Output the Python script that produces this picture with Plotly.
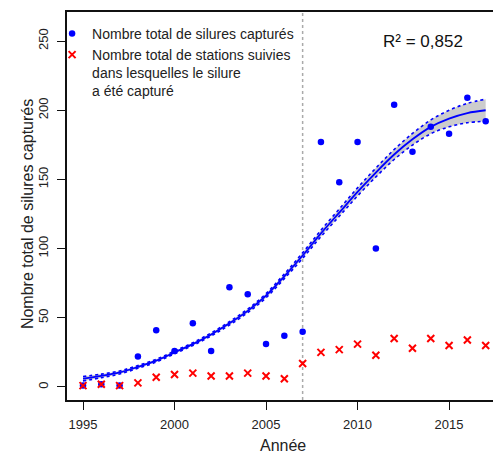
import plotly.graph_objects as go

years = list(range(1995, 2018))
silures = [1, 2, 1, 22, 41, 26, 46, 26, 72, 67, 31, 37, 40, 177, 148, 177, 100, 204, 170, 188, 183, 209, 192]
stations = [1, 2, 1, 3, 7, 9, 10, 8, 8, 10, 8, 6, 17, 25, 27, 31, 23, 35, 28, 35, 30, 34, 30]
fit = [6, 8, 10.5, 14.5, 19, 25, 31, 38, 46, 55, 66, 80, 95, 111, 126, 141, 155, 168, 179, 188, 194, 198, 200]
ci_half = [1.6, 1.3, 1.1, 1.0, 1.0, 1.0, 1.0, 1.1, 1.2, 1.3, 1.5, 1.7, 2.0, 2.3, 2.6, 2.9, 3.2, 3.6, 4.2, 5.0, 6.0, 7.0, 8.0]
x_ticks = [1995, 2000, 2005, 2010, 2015]
y_ticks = [0, 50, 100, 150, 200, 250]
split_year = 2007
r2_text = "R² = 0,852"

upper = [f + h for f, h in zip(fit, ci_half)]
lower = [f - h for f, h in zip(fit, ci_half)]

FONT = "Liberation Sans, Arial, sans-serif"
fig = go.Figure()

fig.add_trace(go.Scatter(x=years, y=upper, mode="lines", line=dict(width=0, shape="spline"), showlegend=False, hoverinfo="skip"))
fig.add_trace(go.Scatter(x=years, y=lower, mode="lines", line=dict(width=0, shape="spline"), fill="tonexty",
                         fillcolor="#cccccc", showlegend=False, hoverinfo="skip"))
fig.add_trace(go.Scatter(x=years, y=upper, mode="lines", line=dict(color="#0000ff", width=1.6, dash="dot", shape="spline"),
                         showlegend=False))
fig.add_trace(go.Scatter(x=years, y=lower, mode="lines", line=dict(color="#0000ff", width=1.6, dash="dot", shape="spline"),
                         showlegend=False))
fig.add_trace(go.Scatter(x=years, y=fit, mode="lines", line=dict(color="#0000ff", width=1.8, shape="spline"),
                         showlegend=False))

fig.add_trace(go.Scatter(x=years, y=silures, mode="markers", name="Nombre total de silures capturés",
                         marker=dict(symbol="circle", size=6.5, color="#0000ff")))
fig.add_trace(go.Scatter(x=years, y=stations, mode="markers",
                         name="Nombre total de stations suivies<br>dans lesquelles le silure<br>a été capturé",
                         marker=dict(symbol="x-thin", size=7, color="#ff0000", line=dict(color="#ff0000", width=2))))

fig.add_shape(type="line", x0=split_year, x1=split_year, y0=0, y1=1, xref="x", yref="paper",
              line=dict(color="#aaaaaa", width=1.5, dash="dot"), layer="below")

fig.add_annotation(text=r2_text, x=0.836, y=0.923, xref="paper", yref="paper", showarrow=False,
                   font=dict(size=17, color="#111111", family=FONT), xanchor="center", yanchor="middle")
fig.add_annotation(text="Année", x=0.507, y=-0.118, xref="paper", yref="paper", showarrow=False,
                   font=dict(size=16, color="#222222", family=FONT), xanchor="center", yanchor="middle")
fig.add_annotation(text="Nombre total de silures capturés", x=-0.094, y=0.479, xref="paper", yref="paper",
                   showarrow=False, textangle=-90,
                   font=dict(size=16, color="#222222", family=FONT), xanchor="center", yanchor="middle")

fig.update_layout(
    width=493, height=453,
    margin=dict(l=67, r=0, t=12, b=53),
    plot_bgcolor="white", paper_bgcolor="white",
    font=dict(family=FONT, color="#222222"),
    legend=dict(x=-0.035, y=0.985, xanchor="left", yanchor="top", valign="top", traceorder="normal",
                font=dict(size=14, family=FONT, color="#222222"), bgcolor="rgba(0,0,0,0)",
                tracegroupgap=4),
    xaxis=dict(range=[1994.126, 2017.40], tickvals=x_ticks, showgrid=False, zeroline=False,
               showline=True, linecolor="#111111", linewidth=1.5, mirror=True,
               ticks="outside", ticklen=8, tickwidth=1.3, tickcolor="#111111",
               tickfont=dict(size=13, color="#222222"), ticklabelstandoff=4),
    yaxis=dict(range=[-9.4, 271], tickvals=y_ticks, showgrid=False, zeroline=False,
               showline=True, linecolor="#111111", linewidth=1.5, mirror=False,
               ticks="outside", ticklen=8, tickwidth=1.3, tickcolor="#111111", tickangle=-90,
               tickfont=dict(size=13, color="#222222"), ticklabelstandoff=4),
)

fig.write_html("out.html", post_script="document.body.style.margin='0';",
               config={"displayModeBar": False})
